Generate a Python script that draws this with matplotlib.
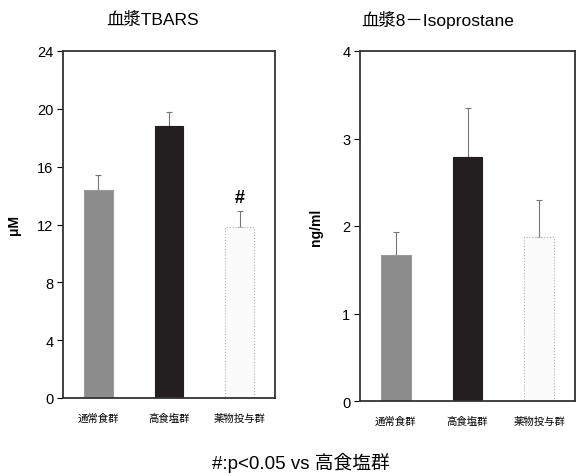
import matplotlib.pyplot as plt
import numpy as np

plt.rcParams['font.family'] = ['Liberation Sans', 'Noto Sans CJK JP', 'DejaVu Sans']

groups = ['通常食群', '高食塩群', '薬物投与群']
tbars = [14.4, 18.8, 11.8]
tbars_err = [1.0, 1.0, 1.1]
iso = [1.67, 2.79, 1.88]
iso_err = [0.26, 0.56, 0.42]

faces = ['#8c8c8c', '#231f20', '#fbfbfb']
edges = ['#9a9a9a', '#231f20', '#b0b0b0']

fig = plt.figure(figsize=(5.76, 4.77), dpi=100)
W, H = 576, 477


def panel(left, right, top, bottom, vals, errs, ymax, yticks, ylabel):
    ax = fig.add_axes([left / W, 1 - bottom / H, (right - left) / W, (bottom - top) / H])
    x = np.arange(len(vals))
    for i in range(len(vals)):
        ax.bar(x[i], vals[i], width=0.41, color=faces[i], edgecolor=edges[i],
               linewidth=0.8, linestyle=':' if i == 2 else '-', zorder=2)
    ax.errorbar(x, vals, yerr=[np.zeros(len(errs)), errs], fmt='none',
                ecolor='#777777', elinewidth=0.8, capsize=2.5, capthick=0.8, zorder=1)
    ax.set_xlim(-0.5, 2.5)
    ax.set_ylim(0, ymax)
    ax.set_yticks(yticks)
    ax.set_xticks(x)
    ax.set_xticklabels(groups, fontsize=7.5, family=['Noto Sans CJK JP'])
    ax.tick_params(axis='x', length=0, pad=11)
    ax.tick_params(axis='y', length=4, width=0.8, labelsize=10.5, pad=3)
    for s in ax.spines.values():
        s.set_linewidth(1.3)
        s.set_color('#333333')
    ax.set_ylabel(ylabel, fontsize=10, fontweight='bold')
    return ax


ax1 = panel(63, 275, 52, 399, tbars, tbars_err, 24, [0, 4, 8, 12, 16, 20, 24], 'μM')
ax1.text(2, 13.9, '#', ha='center', va='center', fontsize=13, fontweight='bold')
ax1.yaxis.set_label_coords(-0.2, 0.5)

ax2 = panel(360, 575, 52, 402, iso, iso_err, 4, [0, 1, 2, 3, 4], 'ng/ml')
ax2.yaxis.set_label_coords(-0.17, 0.5)

fig.text(153 / W, 1 - 20 / H, '血漿TBARS', ha='center', va='center', fontsize=12.5)
fig.text(438 / W, 1 - 20 / H, '血漿8－Isoprostane', ha='center', va='center', fontsize=12.5)
fig.text(301 / W, 1 - 463 / H, '#:p<0.05 vs 高食塩群', ha='center', va='center', fontsize=13.5)

plt.savefig('out.png', dpi=100)
